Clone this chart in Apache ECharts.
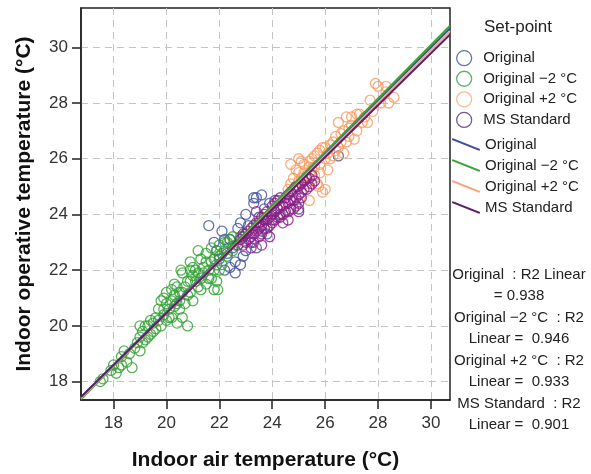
<!DOCTYPE html>
<html>
<head>
<meta charset="utf-8">
<script src="https://cdn.jsdelivr.net/npm/echarts@6/dist/echarts.min.js"></script>
<style>
  html, body { margin: 0; padding: 0; background: #fff; }
  #chart { width: 591px; height: 474px; }
</style>
</head>
<body>
<div id="chart"></div>
<script>
// scatter points [air temp, operative temp]
const original = [
  [21.6, 23.6], [21.8, 23.0], [21.9, 22.7], [22.0, 22.4], [22.1, 23.4], [22.2, 22.0], [22.3, 22.6],
  [22.4, 22.1], [22.4, 23.1], [22.5, 22.8], [22.6, 22.3], [22.7, 23.5], [22.8, 22.2], [22.8, 23.7],
  [22.9, 23.2], [23.0, 22.7], [23.1, 23.6], [23.2, 23.0], [23.3, 24.4], [23.4, 22.8], [23.4, 24.6],
  [23.5, 23.9], [23.6, 23.4], [23.7, 24.2], [23.8, 23.3], [23.9, 24.4], [24.0, 23.8], [24.1, 24.5],
  [24.3, 24.0], [25.0, 24.2], [26.5, 26.1], [22.6, 21.9], [23.0, 24.0], [23.6, 24.7], [23.3, 24.6],
  [22.2, 23.1], [22.9, 22.5]
];
const originalMinus2 = [
  [17.5, 18.0], [17.6, 18.1], [17.9, 18.4], [18.2, 18.5], [18.3, 18.9], [18.4, 19.1], [18.5, 18.7],
  [18.7, 18.5], [18.8, 19.2], [19.0, 19.6], [19.1, 19.8], [19.2, 19.5], [19.3, 20.0], [19.4, 19.7],
  [19.5, 20.1], [19.6, 19.9], [19.6, 20.3], [19.8, 20.9], [19.9, 20.4], [19.9, 21.0], [20.0, 20.2],
  [20.1, 20.6], [20.2, 20.9], [20.2, 20.3], [20.3, 21.1], [20.4, 20.8], [20.5, 21.2], [20.5, 20.6],
  [20.6, 21.9], [20.6, 20.3], [20.7, 21.4], [20.8, 20.0], [20.8, 21.1], [20.9, 22.3], [20.9, 21.6],
  [21.0, 20.9], [21.0, 21.8], [21.1, 22.0], [21.2, 21.4], [21.3, 22.4], [21.3, 21.7], [21.4, 22.1],
  [21.5, 21.5], [21.5, 22.6], [21.6, 22.0], [21.7, 22.8], [21.7, 21.7], [21.8, 21.3], [21.8, 22.4],
  [21.9, 22.2], [22.0, 22.9], [22.0, 22.0], [22.1, 22.6], [22.2, 23.0], [22.3, 22.5], [22.4, 23.1],
  [22.6, 22.9], [22.8, 23.2], [20.3, 21.5], [19.7, 20.6], [21.2, 22.7], [20.0, 21.2],
  [18.0, 18.6], [18.1, 18.3], [18.3, 18.6], [18.6, 19.0], [18.9, 19.4], [19.0, 19.1], [19.1, 19.4],
  [19.2, 20.0], [19.3, 19.6], [19.4, 20.2], [19.5, 19.8], [19.7, 20.2], [19.8, 20.0], [19.9, 20.6],
  [20.0, 20.8], [20.1, 20.3], [20.2, 21.3], [20.3, 20.7], [20.4, 21.4], [20.5, 20.9], [20.6, 21.2],
  [20.7, 20.8], [20.8, 21.6], [20.9, 21.2], [21.0, 22.1], [21.1, 21.6], [21.2, 21.9], [21.3, 21.3],
  [21.4, 21.9], [21.5, 22.3], [21.6, 21.7], [21.7, 22.3], [21.8, 22.0], [21.9, 22.7], [22.0, 22.5],
  [22.1, 22.2], [22.2, 22.7], [22.3, 23.0], [22.5, 22.7], [22.5, 23.2], [19.0, 20.0], [20.4, 20.1],
  [21.9, 21.6], [20.9, 22.0], [20.55, 22.0], [21.94, 21.3]
];
const originalPlus2 = [
  [24.6, 24.9], [24.8, 25.3], [24.9, 25.6], [25.0, 25.2], [25.1, 25.9], [25.2, 25.5], [25.3, 25.1],
  [25.4, 25.7], [25.5, 26.0], [25.6, 25.4], [25.7, 25.1], [25.7, 26.2], [25.8, 25.8], [25.9, 24.8],
  [25.9, 26.4], [26.0, 26.0], [26.1, 25.6], [26.2, 26.5], [26.3, 26.1], [26.4, 26.8], [26.5, 27.3],
  [26.5, 26.4], [26.6, 26.9], [26.7, 26.2], [26.8, 27.5], [26.9, 26.8], [27.0, 27.2], [27.1, 26.7],
  [27.2, 27.6], [27.4, 27.3], [27.6, 27.3], [27.7, 28.1], [27.8, 27.7], [28.0, 28.6], [28.1, 28.0],
  [28.3, 28.4], [28.6, 28.2], [26.0, 24.9], [25.4, 24.5], [24.7, 25.8],
  [24.7, 25.1], [24.9, 25.0], [25.0, 25.5], [25.1, 25.3], [25.2, 25.8], [25.3, 25.4], [25.4, 25.9],
  [25.5, 25.6], [25.6, 26.1], [25.6, 25.7], [25.8, 26.3], [25.8, 25.5], [26.0, 26.4], [26.1, 26.2],
  [26.2, 26.0], [26.3, 26.6], [26.4, 26.3], [26.6, 26.6], [26.7, 27.0], [26.8, 26.6], [26.9, 27.1],
  [27.0, 27.5], [27.2, 27.0], [27.3, 27.6], [27.5, 27.5], [27.9, 28.7], [28.3, 28.6], [28.4, 28.0],
  [25.75, 25.0], [25.0, 26.0]
];
const msStandard = [
  [22.7, 22.9], [22.8, 23.1], [22.9, 23.3], [23.0, 23.0], [23.1, 23.4], [23.2, 23.2], [23.3, 23.6],
  [23.3, 23.0], [23.4, 23.4], [23.5, 23.7], [23.5, 23.2], [23.6, 23.9], [23.7, 23.5], [23.8, 23.8],
  [23.8, 24.1], [23.9, 23.6], [24.0, 24.0], [24.0, 24.3], [24.1, 23.8], [24.2, 24.2], [24.2, 24.5],
  [24.3, 23.9], [24.4, 24.3], [24.5, 24.6], [24.5, 24.1], [24.6, 24.4], [24.7, 24.8], [24.7, 24.2],
  [24.8, 24.5], [24.9, 25.0], [24.9, 24.3], [25.0, 24.7], [25.1, 25.1], [25.1, 24.6], [25.2, 24.9],
  [25.3, 25.3], [25.4, 25.0], [25.5, 25.4], [25.6, 25.2], [23.9, 23.2], [24.4, 23.7], [23.4, 24.1],
  [25.0, 24.1], [24.6, 23.8],
  [22.9, 22.9], [23.0, 23.3], [23.1, 23.1], [23.2, 23.5], [23.3, 23.3], [23.4, 23.7], [23.5, 23.5],
  [23.6, 23.6], [23.6, 23.3], [23.7, 23.8], [23.7, 24.0], [23.8, 23.5], [23.9, 23.9], [24.0, 23.7],
  [24.1, 24.1], [24.1, 24.4], [24.2, 23.9], [24.3, 24.3], [24.3, 24.6], [24.4, 24.0], [24.5, 24.4],
  [24.6, 24.7], [24.6, 24.1], [24.7, 24.5], [24.8, 24.9], [24.8, 24.2], [24.9, 24.6], [25.0, 25.0],
  [25.0, 24.4], [25.1, 24.8], [25.2, 25.2], [25.3, 24.9], [25.4, 25.3], [25.5, 25.1], [23.2, 22.8],
  [23.6, 22.9]
];

const seriesNames = ['Original', 'Original \u22122 \u00b0C', 'Original +2 \u00b0C', 'MS Standard'];
const seriesData = [original, originalMinus2, originalPlus2, msStandard];
const dotColors = ['#3f4f9e', '#2ea02f', '#f99a5c', '#8a1c84'];
const lineColors = ['#3f4f9e', '#3aa33a', '#f6a57c', '#5b1f6b'];
const legendDotColors = ['#3f4f9e', '#3c9f48', '#f6a57c', '#4f2c74'];

// fit lines: slope, intercept
const slopes = [0.950, 0.961, 0.945, 0.933];
const intercepts = [1.50, 1.25, 1.55, 1.80];
const r2 = ['0.938', '0.946', '0.933', '0.901'];

const xTicks = [18, 20, 22, 24, 26, 28, 30];
const yTicks = [18, 20, 22, 24, 26, 28, 30];
const xMin = 16.77, xMax = 30.72;
const yMin = 17.34, yMax = 31.41;

const font = '"Liberation Sans", Arial, sans-serif';
const chart = echarts.init(document.getElementById('chart'));

let series = [];
seriesData.forEach((d, i) => {
  series.push({
    name: seriesNames[i],
    type: 'scatter',
    data: d,
    symbol: 'circle',
    symbolSize: 10,
    itemStyle: {color: 'rgba(0,0,0,0)', borderColor: dotColors[i], borderWidth: 1.3},
    z: 2
  });
});
seriesNames.forEach((n, i) => {
  series.push({
    name: n + ' fit',
    type: 'line',
    data: [[xMin, slopes[i] * xMin + intercepts[i]], [xMax, slopes[i] * xMax + intercepts[i]]],
    showSymbol: false,
    symbol: 'none',
    lineStyle: {color: lineColors[i], width: 2},
    itemStyle: {color: lineColors[i]},
    z: 3
  });
});

let r2Lines = [];
seriesNames.forEach((n, i) => {
  if (i === 0) {
    r2Lines.push('Original  : R2 Linear', '= ' + r2[i]);
  } else {
    r2Lines.push(n + '  : R2', 'Linear =  ' + r2[i]);
  }
});

const option = {
  animation: false,
  backgroundColor: '#fff',
  textStyle: {fontFamily: font},
  grid: {
    left: 81, top: 8, right: 141, bottom: 74, outerBoundsMode: 'none',
    show: true, borderColor: '#222', borderWidth: 1.5
  },
  xAxis: {
    type: 'value', min: xMin, max: xMax, splitNumber: 7,
    name: 'Indoor air temperature (\u00b0C)', nameLocation: 'middle', nameGap: 50,
    nameTextStyle: {fontSize: 21, fontWeight: 'bold', color: '#111', fontFamily: font},
    axisLine: {show: true, onZero: false, lineStyle: {color: '#222', width: 1.5}},
    axisTick: {show: true, length: 9, customValues: xTicks, lineStyle: {color: '#222', width: 1.5}},
    axisLabel: {customValues: xTicks, fontSize: 17, color: '#333', margin: 15, fontFamily: font},
    splitLine: {show: true, lineStyle: {color: '#c4c4c4', type: [7, 5], width: 1}}
  },
  yAxis: {
    type: 'value', min: yMin, max: yMax, splitNumber: 7,
    name: 'Indoor operative temperature (\u00b0C)', nameLocation: 'middle', nameGap: 46,
    nameTextStyle: {fontSize: 21, fontWeight: 'bold', color: '#111', fontFamily: font},
    axisLine: {show: true, onZero: false, lineStyle: {color: '#222', width: 1.5}},
    axisTick: {show: true, length: 9, customValues: yTicks, lineStyle: {color: '#222', width: 1.5}},
    axisLabel: {customValues: yTicks, fontSize: 17, color: '#333', margin: 13, fontFamily: font},
    splitLine: {show: true, lineStyle: {color: '#c4c4c4', type: [7, 5], width: 1}}
  },
  legend: [
    {
      orient: 'vertical', left: 451, top: 45, itemWidth: 28, itemHeight: 15, itemGap: 4.3,
      textStyle: {fontSize: 15, color: '#222', fontFamily: font},
      data: seriesNames.map((n, i) => ({
        name: n, icon: 'circle',
        itemStyle: {color: 'rgba(0,0,0,0)', borderColor: legendDotColors[i], borderWidth: 1.3}
      }))
    },
    {
      orient: 'vertical', left: 447, top: 132, itemWidth: 28, itemHeight: 12, itemGap: 6,
      textStyle: {fontSize: 15, color: '#222', fontFamily: font},
      formatter: name => name.replace(' fit', ''),
      data: seriesNames.map((n, i) => ({
        name: n + ' fit',
        icon: 'path://M0,0 L1.6,0 L28,10.6 L28,12 L26.4,12 L0,1.4 Z',
        itemStyle: {color: lineColors[i]}
      }))
    }
  ],
  graphic: [
    {
      type: 'text', left: 484, top: 19,
      style: {text: 'Set-point', fontSize: 17, fill: '#222', fontFamily: font}
    },
    {
      type: 'text', x: 519, y: 264,
      style: {
        text: r2Lines.join('\n'), fontSize: 15, lineHeight: 21.5, fill: '#222',
        align: 'center', verticalAlign: 'top', fontFamily: font
      }
    }
  ],
  series: series
};

chart.setOption(option);
</script>
</body>
</html>
